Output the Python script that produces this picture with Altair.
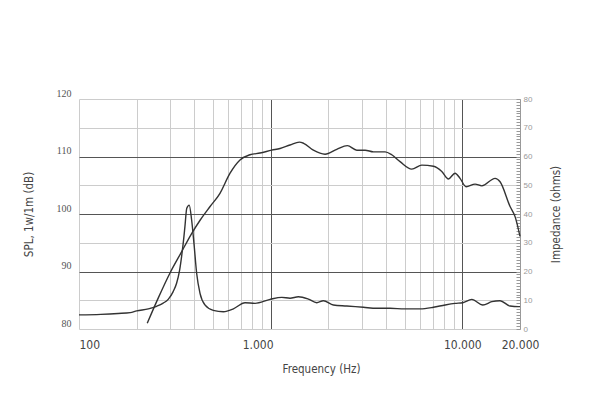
import altair as alt
import pandas as pd

# ---- data ----
spl_freq = [227, 260, 298, 340, 387, 430, 483, 544, 614, 692, 780, 880, 1013, 1120,
            1262, 1412, 1486, 1671, 1922, 2213, 2514, 2814, 3111, 3437, 3724, 3954,
            4285, 4735, 5447, 6147, 7068, 7815, 8467, 9166, 9730, 10465, 11660,
            12640, 14830, 15740, 17750, 18870, 20000]
spl_db = [81.0, 85.5, 89.7, 93.2, 96.6, 99.0, 101.3, 103.6, 107.1, 109.4, 110.3, 110.6,
          111.1, 111.4, 112.0, 112.5, 112.3, 111.1, 110.4, 111.25, 111.9, 111.1, 111.1,
          110.8, 110.8, 110.8, 110.3, 109.1, 107.8, 108.5, 108.3, 107.4, 106.1, 107.1,
          106.2, 104.75, 105.2, 104.9, 106.2, 105.6, 101.3, 99.5, 96.1]

imp_freq = [100, 130, 160, 185, 200, 230, 254, 275, 292, 310, 323, 335, 343, 352, 357,
            365, 376, 387, 398, 411, 428, 454, 502, 567, 639, 735, 829, 993, 1143, 1262,
            1396, 1573, 1740, 1884, 2125, 2496, 3048, 3578, 4198, 5000, 6020, 7068,
            8130, 9166, 10060, 11210, 12800, 14250, 15740, 17750, 19630, 20000]
imp_ohm = [4.9, 5.1, 5.4, 5.7, 6.3, 7.0, 7.9, 9.0, 10.3, 13.0, 15.9, 20.5, 25.2, 31.5,
           35.6, 42.0, 43.1, 37.9, 29.8, 19.4, 12.4, 8.4, 6.5, 6.0, 7.0, 9.15, 8.9, 10.3,
           11.0, 10.7, 11.2, 10.4, 9.15, 9.85, 8.35, 8.0, 7.55, 7.2, 7.2, 7.0, 7.0, 7.55,
           8.35, 8.9, 9.15, 10.3, 8.35, 9.5, 9.85, 8.0, 7.8, 7.8]

x_grid = [100, 200, 300, 400, 500, 600, 700, 800, 900, 1000, 2000, 3000, 4000, 5000,
          6000, 7000, 8000, 9000, 10000, 20000]
x_major = [1000, 10000]
x_labels = {100: "100", 1000: "1.000", 10000: "10.000", 20000: "20.000"}
spl_grid = [80, 85, 90, 95, 100, 105, 110, 115, 120]
spl_major = [90, 100, 110]
imp_labels = [0, 10, 20, 30, 40, 50, 60, 70, 80]
imp_minor = list(range(0, 81))

spl_df = pd.DataFrame({"freq": spl_freq, "spl": spl_db})
imp_df = pd.DataFrame({"freq": imp_freq, "imp": imp_ohm})

COND = "Liberation Sans Narrow, DejaVu Sans Condensed, Roboto Condensed, Arial Narrow, sans-serif"

label_expr = " : ".join(
    f"datum.value == {k} ? '{v}'" for k, v in x_labels.items()
) + " : ''"

x_test = " || ".join(f"datum.value == {v}" for v in x_major)
y_test = " || ".join(f"datum.value == {v}" for v in spl_major)

x_enc = alt.X(
    "freq:Q",
    scale=alt.Scale(type="log", domain=[100, 20000], nice=False),
    axis=alt.Axis(
        values=x_grid,
        labelExpr=label_expr,
        grid=True,
        gridColor={"condition": {"test": x_test, "value": "#555555"}, "value": "#cccccc"},
        gridWidth=1,
        ticks=False,
        domain=False,
        labelFont=COND,
        labelFontSize=12,
        labelColor="#444444",
        labelPadding=10,
        labelAlign={"condition": {"test": "datum.value == 100", "value": "left"}, "value": "center"},
        labelOffset={"condition": {"test": "datum.value == 1000", "value": -13}, "value": 0},
        labelFlush=False,
        labelOverlap=False,
        title="Frequency (Hz)",
        titleFont=COND,
        titleFontSize=11.5,
        titleFontWeight="normal",
        titleColor="#444444",
        titleX=242,
        titleY=43,
        titleBaseline="alphabetic",
    ),
)

spl_line = alt.Chart(spl_df).mark_line(
    color="#333333", strokeWidth=1.4, interpolate="monotone"
).encode(
    x=x_enc,
    y=alt.Y(
        "spl:Q",
        scale=alt.Scale(domain=[80, 120], nice=False, zero=False),
        axis=alt.Axis(
            values=spl_grid,
            labelExpr="datum.value % 10 == 0 ? datum.value : ''",
            grid=True,
            gridColor={"condition": {"test": y_test, "value": "#555555"}, "value": "#cccccc"},
            gridWidth=1,
            ticks=False,
            domain=False,
            labelFont="Liberation Serif",
            labelFontSize=10,
            labelColor="#555555",
            labelPadding=8,
            labelBaseline="alphabetic",
            labelOffset=-3,
            title="SPL, 1w/1m (dB)",
            titleFont=COND,
            titleFontSize=11.5,
            titleFontWeight="normal",
            titleColor="#444444",
            titleAngle=270,
            titleX=-50,
            titleY=115,
            titleAlign="center",
            titleBaseline="middle",
        ),
    ),
)

imp_line = alt.Chart(imp_df).mark_line(
    color="#333333", strokeWidth=1.4, interpolate="monotone"
).encode(
    x=x_enc,
    y=alt.Y(
        "imp:Q",
        scale=alt.Scale(domain=[0, 80], nice=False),
        axis=alt.Axis(
            orient="right",
            values=imp_labels,
            grid=False,
            ticks=False,
            domain=True,
            domainColor="#999999",
            labelFont="Liberation Sans",
            labelFontSize=8,
            labelColor="#999999",
            labelPadding=3,
            title="Impedance (ohms)",
            titleFont=COND,
            titleFontSize=11.5,
            titleFontWeight="normal",
            titleColor="#444444",
            titleAngle=270,
            titleX=36,
            titleY=115,
            titleAlign="center",
            titleBaseline="middle",
        ),
    ),
)

imp_ticks = alt.Chart(imp_df).mark_line(strokeOpacity=0).encode(
    x=x_enc,
    y=alt.Y(
        "imp:Q",
        scale=alt.Scale(domain=[0, 80], nice=False),
        axis=alt.Axis(
            orient="right",
            values=imp_minor,
            labels=False,
            ticks=True,
            tickSize=4,
            tickColor="#999999",
            tickWidth=1,
            domain=False,
            grid=False,
            offset=-4,
            title=None,
        ),
    ),
)

chart = alt.layer(spl_line, imp_line, imp_ticks).resolve_scale(
    y="independent"
).properties(
    width=441,
    height=230,
    autosize=alt.AutoSizeParams(type="none"),
    padding={"left": 71, "top": 91, "right": 70, "bottom": 60},
    background="white",
).configure_view(strokeWidth=0)

chart.save("out.html", embed_options={"renderer": "svg", "actions": False})
